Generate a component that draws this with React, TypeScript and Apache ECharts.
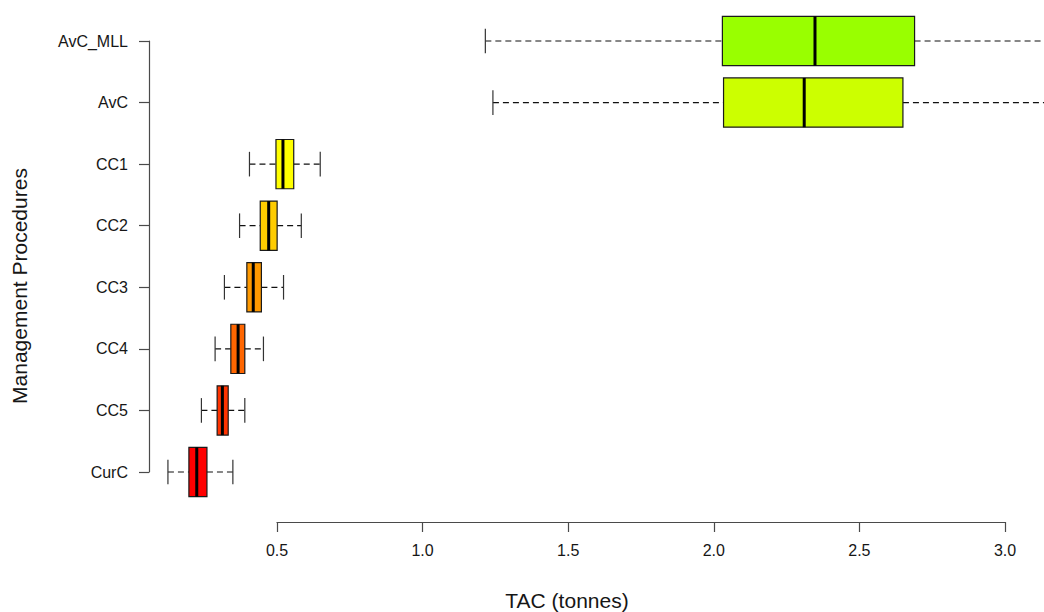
import React, { useEffect, useRef } from "react";
import * as echarts from "echarts";

// Management procedures, bottom to top on the vertical axis
const categories = ["CurC", "CC5", "CC4", "CC3", "CC2", "CC1", "AvC", "AvC_MLL"];

// Five-number summaries of TAC (tonnes) per procedure
const lowWhisker = [0.125, 0.24, 0.287, 0.319, 0.371, 0.405, 1.241, 1.215];
const lowerQuartile = [0.197, 0.294, 0.341, 0.396, 0.442, 0.496, 2.033, 2.029];
const medians = [0.224, 0.312, 0.366, 0.418, 0.471, 0.52, 2.31, 2.347];
const upperQuartile = [0.259, 0.332, 0.389, 0.446, 0.5, 0.557, 2.649, 2.689];
const highWhisker = [0.348, 0.389, 0.453, 0.522, 0.583, 0.648, 3.3, 3.35];

const boxColors = ["#FF0000", "#FF3300", "#FF6600", "#FF9900", "#FFCC00", "#FFFF00", "#CCFF00", "#99FF00"];

// Visible tick values on the TAC axis
const tacTicks = [0.5, 1.0, 1.5, 2.0, 2.5, 3.0];

const FONT = "'Liberation Sans', Arial, sans-serif";
const AXIS_COLOR = "#4a4a4a";
const TEXT_COLOR = "#161616";

export default function App() {
  const ref = useRef<HTMLDivElement>(null);

  useEffect(() => {
    if (!ref.current) return;
    const chart = echarts.init(ref.current, null, { renderer: "svg" });

    const boxData = categories.map((_, i) => [
      i,
      lowWhisker[i],
      lowerQuartile[i],
      medians[i],
      upperQuartile[i],
      highWhisker[i],
    ]);

    const renderBox = (params: any, api: any) => {
      const idx = api.value(0);
      const pt = (v: number) => api.coord([v, idx]);
      const [xLo, yc] = pt(api.value(1));
      const xQ1 = pt(api.value(2))[0];
      const xMed = pt(api.value(3))[0];
      const xQ3 = pt(api.value(4))[0];
      const xHi = pt(api.value(5))[0];
      const band = api.size([0, 1])[1];
      const h = band * 0.8;
      const cap = h * 0.5;
      const dashed = { stroke: "#111", lineWidth: 1.2, lineDash: [6, 4] };
      const solid = { stroke: "#333", lineWidth: 1.2 };
      return {
        type: "group",
        children: [
          { type: "line", shape: { x1: xLo, y1: yc, x2: xQ1, y2: yc }, style: dashed },
          { type: "line", shape: { x1: xQ3, y1: yc, x2: xHi, y2: yc }, style: dashed },
          { type: "line", shape: { x1: xLo, y1: yc - cap / 2, x2: xLo, y2: yc + cap / 2 }, style: solid },
          { type: "line", shape: { x1: xHi, y1: yc - cap / 2, x2: xHi, y2: yc + cap / 2 }, style: solid },
          {
            type: "rect",
            shape: { x: xQ1, y: yc - h / 2, width: xQ3 - xQ1, height: h },
            style: { fill: boxColors[idx], stroke: "#1a1a1a", lineWidth: 1.2 },
          },
          {
            type: "line",
            shape: { x1: xMed, y1: yc - h / 2, x2: xMed, y2: yc + h / 2 },
            style: { stroke: "#000", lineWidth: 3 },
          },
        ],
      };
    };

    chart.setOption({
      animation: false,
      backgroundColor: "#ffffff",
      grid: [
        { left: 149, top: 41, width: 894, height: 431 },
        { left: 277, top: 500, width: 728, height: 22 },
      ],
      xAxis: [
        { gridIndex: 0, type: "value", min: 0.06, max: 3.13, show: false },
        {
          gridIndex: 1,
          type: "value",
          min: tacTicks[0],
          max: tacTicks[tacTicks.length - 1],
          interval: 0.5,
          axisLine: { show: true, lineStyle: { color: AXIS_COLOR, width: 1.2 } },
          axisTick: { show: true, length: 10, lineStyle: { color: AXIS_COLOR, width: 1.2 } },
          axisLabel: {
            margin: 20,
            fontSize: 16,
            fontFamily: FONT,
            color: TEXT_COLOR,
            formatter: (v: number) => v.toFixed(1),
          },
          splitLine: { show: false },
        },
      ],
      yAxis: [
        {
          gridIndex: 0,
          type: "category",
          data: categories,
          boundaryGap: false,
          axisLine: { show: true, lineStyle: { color: AXIS_COLOR, width: 1.2 } },
          axisTick: { show: true, length: 10, lineStyle: { color: AXIS_COLOR, width: 1.2 } },
          axisLabel: { margin: 21, fontSize: 16, fontFamily: FONT, color: TEXT_COLOR },
          splitLine: { show: false },
        },
        { gridIndex: 1, type: "value", show: false },
      ],
      graphic: [
        {
          type: "text",
          x: 567,
          y: 600,
          style: {
            text: "TAC (tonnes)",
            fontSize: 21,
            fontFamily: FONT,
            fill: TEXT_COLOR,
            textAlign: "center",
            textVerticalAlign: "middle",
          },
        },
        {
          type: "text",
          x: 19,
          y: 286,
          rotation: Math.PI / 2,
          style: {
            text: "Management Procedures",
            fontSize: 21,
            fontFamily: FONT,
            fill: TEXT_COLOR,
            textAlign: "center",
            textVerticalAlign: "middle",
          },
        },
      ],
      series: [
        {
          type: "custom",
          xAxisIndex: 0,
          yAxisIndex: 0,
          clip: false,
          encode: { y: 0, x: [1, 2, 3, 4, 5] },
          data: boxData,
          renderItem: renderBox,
        },
      ],
    });

    return () => chart.dispose();
  }, []);

  return (
    <div
      ref={ref}
      style={{ position: "absolute", left: 0, top: 0, width: 1044, height: 612, background: "#fff" }}
    />
  );
}
